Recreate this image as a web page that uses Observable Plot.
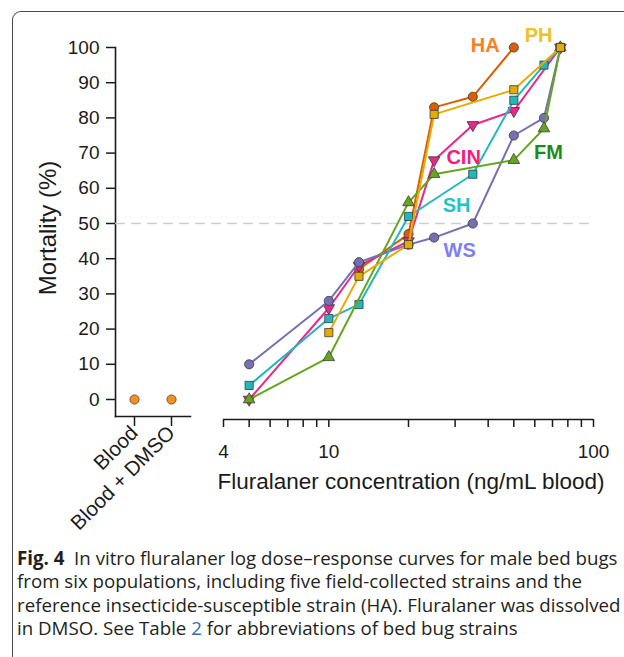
<!DOCTYPE html>
<html><head><meta charset="utf-8">
<script src="https://cdn.jsdelivr.net/npm/d3@7"></script>
<script src="https://cdn.jsdelivr.net/npm/@observablehq/plot@0.6"></script>
<style>
html,body{margin:0;padding:0;background:#fff;}
body{width:624px;height:657px;overflow:hidden;position:relative;}
#box{position:absolute;left:12px;top:11px;width:700px;height:700px;border-top:1.5px solid #4a4a4a;border-left:1.5px solid #4a4a4a;border-top-left-radius:9px;}
#chart{position:absolute;left:0;top:0;width:624px;height:540px;}
#chart svg{position:absolute;left:0;top:0;background:transparent !important;overflow:visible;}
#caption{position:absolute;left:17px;top:546px;font-family:'Open Sans',sans-serif;font-size:18.7px;line-height:23.3px;color:#231f20;white-space:nowrap;}
#caption b{font-weight:700;}
#caption .lnk{color:#2a6ebb;}
</style></head><body>
<div id="box"></div>
<div id="chart"></div>
<div id="caption"><b>Fig. 4</b>&nbsp; In vitro fluralaner log dose–response curves for male bed bugs<br>from six populations, including five field-collected strains and the<br>reference insecticide-susceptible strain (HA). Fluralaner was dissolved<br>in DMSO. See Table <span class="lnk">2</span> for abbreviations of bed bug strains</div>
<script>
// ---- data ----
const controls = ["Blood", "Blood + DMSO"];
const controlMort = [0, 0];

const strains = ["HA", "CIN", "WS", "SH", "FM", "PH"];
const haConc = [13, 20, 25, 35, 50];
const haMort = [37, 47, 83, 86, 100];
const phConc = [10, 13, 20, 25, 50, 75];
const phMort = [19, 35, 44, 81, 88, 100];
const cinConc = [5, 10, 13, 20, 25, 35, 50, 75];
const cinMort = [0, 26, 38, 45, 68, 78, 82, 100];
const shConc = [5, 10, 13, 20, 35, 50, 65, 75];
const shMort = [4, 23, 27, 52, 64, 85, 95, 100];
const wsConc = [5, 10, 13, 20, 25, 35, 50, 65, 75];
const wsMort = [10, 28, 39, 44, 46, 50, 75, 80, 100];
const fmConc = [5, 10, 20, 25, 50, 65, 75];
const fmMort = [0, 12, 56, 64, 68, 77, 100];

// label anchors (data units: concentration, mortality)
const labelConc = [39, 62, 32.3, 30.4, 31.2, 67.6];
const labelMort = [100.6, 103.3, 68.8, 55.1, 42.3, 70.2];
const labelNames = ["HA", "PH", "CIN", "SH", "WS", "FM"];

const yTicks = [0, 10, 20, 30, 40, 50, 60, 70, 80, 90, 100];
const xTicks = [4, 5, 6, 7, 8, 9, 10, 20, 30, 40, 50, 60, 70, 80, 90, 100];
const xTickLabels = [4, 10, 100];
const threshold = [50];

// ---- styles ----
const triangleDown = {
  draw(context, size) {
    const s3 = Math.sqrt(3);
    const y = Math.sqrt(size / (s3 * 3));
    context.moveTo(0, y * 2);
    context.lineTo(-s3 * y, -y);
    context.lineTo(s3 * y, -y);
    context.closePath();
  }
};
const seriesStyle = {
  HA: {color: "#d95f02", symbol: "circle", r: 4.6, label: "#f7801f"},
  PH: {color: "#e6ab02", symbol: "square", r: 4.6, label: "#f0c02a"},
  CIN: {color: "#e7298a", symbol: triangleDown, r: 4.3, label: "#f2207a"},
  SH: {color: "#20b8bd", symbol: "square", r: 4.6, label: "#22c4c4"},
  WS: {color: "#7570b3", symbol: "circle", r: 4.6, label: "#7f7ff2"},
  FM: {color: "#66a61e", symbol: "triangle", r: 4.3, label: "#1e8a1e"}
};
const series = {
  HA: [haConc, haMort], PH: [phConc, phMort], CIN: [cinConc, cinMort],
  SH: [shConc, shMort], WS: [wsConc, wsMort], FM: [fmConc, fmMort]
};
const rows = name => series[name][0].map((c, i) => ({strain: name, conc: c, mort: series[name][1][i]}));
const controlData = controls.map((c, i) => ({group: c, mort: controlMort[i]}));
const labelData = labelNames.map((n, i) => ({name: n, conc: labelConc[i], mort: labelMort[i]}));

const font = "'Liberation Sans', Arial, Helvetica, sans-serif";
const ink = "#1a1a1a";
const W = 624, H = 540;
const yMinL = -4.83, yMinR = -5.68;

const left = Plot.plot({
  width: W, height: H,
  marginLeft: 115, marginRight: 434, marginTop: 47, marginBottom: 124,
  style: {fontFamily: font, fontSize: "19px", color: ink, background: "transparent", overflow: "visible"},
  x: {type: "point", domain: controls, padding: 0.49, label: null},
  y: {domain: [yMinL, 100], label: null},
  marks: [
    Plot.frame({anchor: "left", stroke: ink, strokeWidth: 1.6}),
    Plot.frame({anchor: "bottom", stroke: ink, strokeWidth: 1.6}),
    Plot.axisY({ticks: yTicks, tickSize: 9, tickPadding: 7, fontSize: 19, label: null, stroke: ink, strokeWidth: 1.5, fill: ink}),
    Plot.axisX({tickSize: 10, tickPadding: 3, tickRotate: -45, fontSize: 20.5, label: null, stroke: ink, strokeWidth: 1.5, fill: ink}),
    Plot.dot(controlData, {x: "group", y: "mort", fill: "#f7901e", stroke: "#444", strokeWidth: 0.8, r: 4.6}),
    Plot.text(["Mortality (%)"], {frameAnchor: "left", textAnchor: "middle", rotate: -90, dx: -67, dy: -4, fontSize: 24, fill: ink})
  ]
});

const marks = [
  Plot.ruleY(threshold, {stroke: "#cfcfcf", strokeWidth: 1.6, strokeDasharray: "10,6"}),
  Plot.ruleY([yMinR], {x1: 4, x2: 100, stroke: ink, strokeWidth: 1.6}),
  Plot.axisX({ticks: xTicks, tickFormat: d => xTickLabels.includes(d) ? String(d) : "", tickSize: 8, tickPadding: 17, fontSize: 19, label: null, stroke: ink, strokeWidth: 1.5, fill: ink}),
  Plot.text(["Fluralaner concentration (ng/mL blood)"], {frameAnchor: "bottom", textAnchor: "middle", dx: 57, dy: 69, fontSize: 22.5, fill: ink})
];
for (const name of strains) {
  const st = seriesStyle[name];
  const d = rows(name);
  marks.push(Plot.line(d, {x: "conc", y: "mort", stroke: st.color, strokeWidth: 2}));
  marks.push(Plot.dot(d, {x: "conc", y: "mort", symbol: st.symbol, fill: st.color, stroke: "#3a3a3a", strokeWidth: 0.8, r: st.r}));
}
marks.push(Plot.text(labelData, {x: "conc", y: "mort", text: "name", fill: d => seriesStyle[d.name].label, fontWeight: "bold", fontSize: 20}));

const right = Plot.plot({
  width: W, height: H,
  marginLeft: 115, marginRight: 32, marginTop: 47, marginBottom: 121,
  style: {fontFamily: font, fontSize: "19px", color: ink, background: "transparent", overflow: "visible"},
  x: {type: "log", domain: [4, 100], range: [223, 593], label: null},
  y: {domain: [yMinR, 100], label: null, axis: null},
  marks
});

const chart = document.getElementById("chart");
chart.appendChild(left);
chart.appendChild(right);
</script>
</body></html>
